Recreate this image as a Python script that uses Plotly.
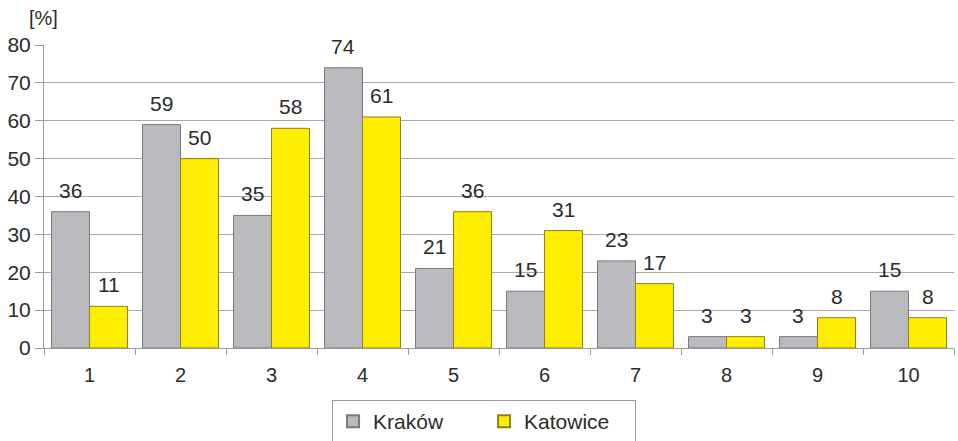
import plotly.graph_objects as go

categories = ["1", "2", "3", "4", "5", "6", "7", "8", "9", "10"]
krakow = [36, 59, 35, 74, 21, 15, 23, 3, 3, 15]
katowice = [11, 50, 58, 61, 36, 31, 17, 3, 8, 8]

FONT = "Liberation Sans, Arial, sans-serif"
TEXT = "#2b2b2b"
BAR_OFFSET = 0.21  # half the distance between paired bar centres, in category units

fig = go.Figure()
fig.add_trace(go.Bar(
    name="Kraków", x=categories, y=krakow,
    marker=dict(color="#b9babe", line=dict(color="#7a7a7a", width=1)),
))
fig.add_trace(go.Bar(
    name="Katowice", x=categories, y=katowice,
    marker=dict(color="#ffed00", line=dict(color="#8c8020", width=1)),
))

# value labels above each bar
for series, sign in [(krakow, -1), (katowice, 1)]:
    for i, v in enumerate(series):
        fig.add_annotation(
            x=i + sign * BAR_OFFSET, y=v, xref="x", yref="y",
            text=str(v), showarrow=False, yanchor="bottom", yshift=8,
            font=dict(size=21, color=TEXT, family=FONT),
        )

fig.update_layout(
    width=958, height=441,
    margin=dict(l=44, r=4, t=45, b=93),
    paper_bgcolor="white", plot_bgcolor="white",
    barmode="group", bargap=0.165, bargroupgap=0,
    font=dict(family=FONT, size=20, color=TEXT),
    showlegend=True,
    legend=dict(
        orientation="h", xref="container", yref="container",
        x=0.3466, y=0.093, xanchor="left", yanchor="top",
        bordercolor="#9a9a9a", borderwidth=1, bgcolor="white",
        font=dict(size=21, color=TEXT, family=FONT),
        entrywidth=106, entrywidthmode="pixels",
        itemsizing="constant",
    ),
)
fig.update_xaxes(
    type="category", range=[-0.5, 9.5],
    showline=True, linecolor="#9a9a9a", linewidth=1,
    ticks="outside", tickson="boundaries", ticklen=6, tickcolor="#9a9a9a",
    ticklabelstandoff=9,
    showgrid=False, tickfont=dict(size=20, color=TEXT),
)
fig.update_yaxes(
    range=[0, 80], dtick=10,
    showline=True, linecolor="#9a9a9a", linewidth=1,
    ticks="outside", ticklen=8, tickcolor="#9a9a9a",
    showgrid=True, gridcolor="#a8a8a8", gridwidth=1,
    zeroline=False, tickfont=dict(size=21, color=TEXT),
)
fig.add_annotation(
    text="[%]", xref="paper", yref="paper", x=-0.019, y=1.09,
    xanchor="left", yanchor="middle", showarrow=False,
    font=dict(size=20, color=TEXT, family=FONT),
)

fig.write_html("out.html")
